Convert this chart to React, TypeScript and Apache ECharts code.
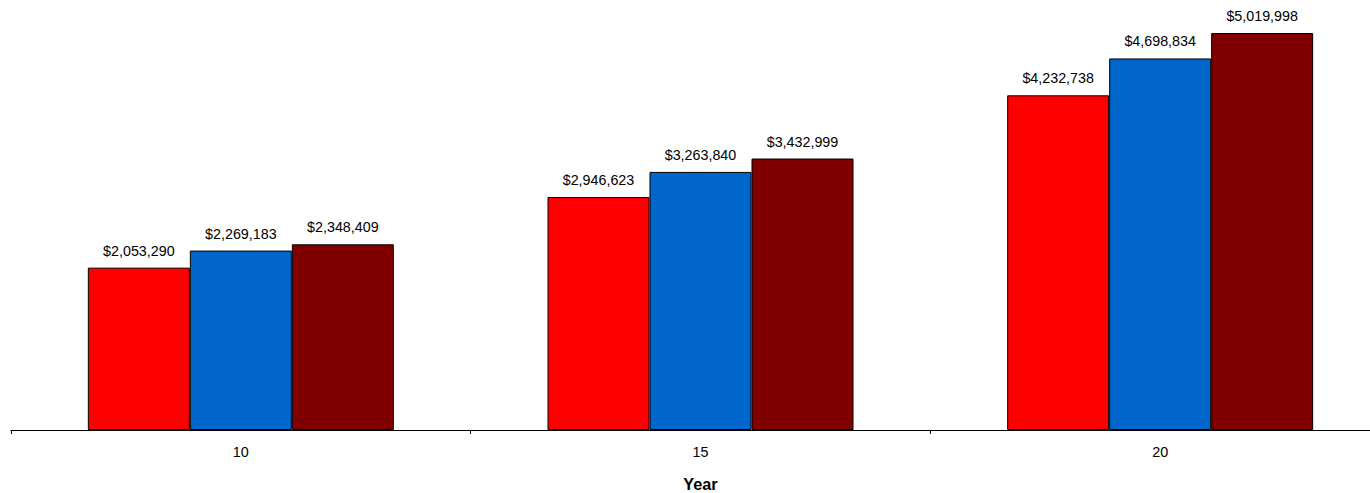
import React, { useEffect, useRef } from "react";
import * as echarts from "echarts";

const categories = ["10", "15", "20"];
const seriesA = [2053290, 2946623, 4232738];
const seriesB = [2269183, 3263840, 4698834];
const seriesC = [2348409, 3432999, 5019998];
const colors = ["#FF0000", "#0066CC", "#800000"];

const fmt = (v: number) => "$" + v.toLocaleString("en-US");
const FONT = "Liberation Sans, Arial, sans-serif";

export default function App() {
  const ref = useRef<HTMLDivElement>(null);
  useEffect(() => {
    if (!ref.current) return;
    const chart = echarts.init(ref.current, undefined, { renderer: "svg" });
    const mk = (name: string, data: number[], color: string) => ({
      name,
      type: "bar",
      data,
      barWidth: 102,
      barGap: "0%",
      itemStyle: { color, borderColor: "#000", borderWidth: 1 },
      label: {
        show: true,
        position: "top",
        distance: 10,
        formatter: (p: any) => fmt(p.value),
        color: "#000",
        fontSize: 14.3,
        fontFamily: FONT,
      },
    });
    chart.setOption({
      animation: false,
      backgroundColor: "#fff",
      grid: {
        left: 11,
        top: 3,
        width: 1379,
        height: 427,
        containLabel: false,
        outerBoundsMode: "none",
      },
      xAxis: {
        type: "category",
        data: categories,
        boundaryGap: true,
        name: "Year",
        nameLocation: "middle",
        nameGap: 46,
        nameTextStyle: {
          fontSize: 16.3,
          fontWeight: "bold",
          color: "#000",
          fontFamily: FONT,
        },
        axisLine: { lineStyle: { color: "#000", width: 1 } },
        axisTick: { show: true, length: 4, lineStyle: { color: "#000" } },
        axisLabel: {
          margin: 15,
          fontSize: 14.4,
          color: "#000",
          fontFamily: FONT,
        },
      },
      yAxis: {
        type: "value",
        min: 0,
        max: 5400000,
        show: false,
        splitLine: { show: false },
      },
      series: [
        mk("A", seriesA, colors[0]),
        mk("B", seriesB, colors[1]),
        mk("C", seriesC, colors[2]),
      ],
    });
    return () => chart.dispose();
  }, []);
  return (
    <div
      ref={ref}
      style={{ position: "fixed", left: 0, top: 0, width: 1370, height: 493 }}
    />
  );
}
